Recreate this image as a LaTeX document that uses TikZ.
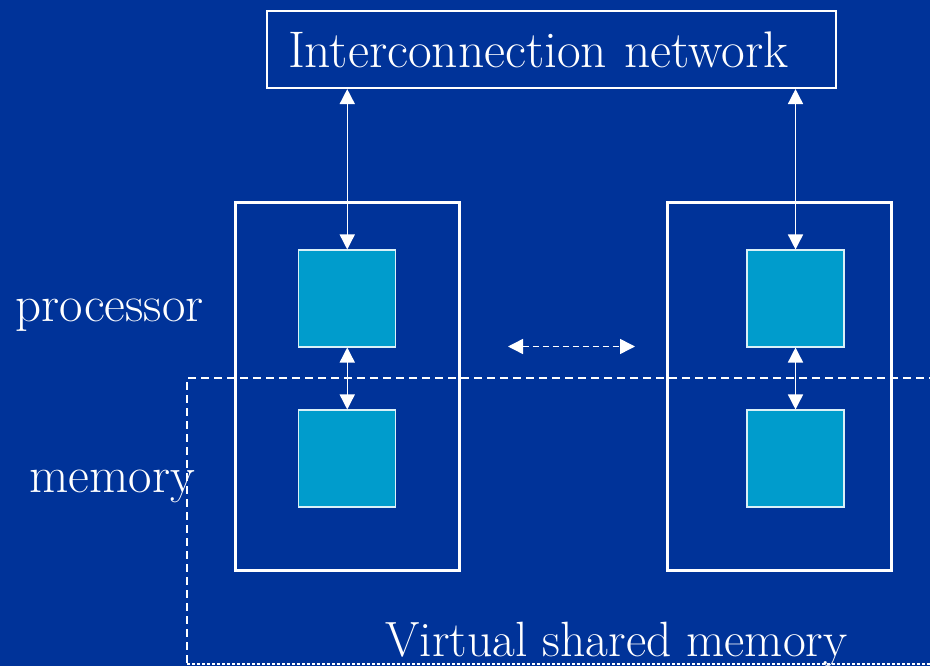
\documentclass[tikz,border=0pt]{standalone}
\usetikzlibrary{calc,arrows.meta}
\definecolor{slideblue}{RGB}{0,51,153}
\definecolor{cellblue}{RGB}{0,156,204}

\begin{document}
\begin{tikzpicture}[>={Triangle[length=0.3cm,width=0.3cm]}]
	\tikzstyle{unit}=[draw=white,line width=1.7pt,minimum width=4.47cm,minimum height=7.36cm,inner sep=0pt]
	\tikzstyle{cell}=[draw=white!85!cellblue,fill=cellblue,line width=0.6pt,minimum size=1.94cm,inner sep=0pt]
	\tikzstyle{caption}=[text=white,font=\fontsize{29}{34}\selectfont,inner sep=0pt,anchor=base west]
	\tikzstyle{link}=[white,line width=0.85pt,<->]
	\tikzstyle{vdash}=[white,line width=0.8pt,dash pattern=on 0.16cm off 0.1cm]

	\fill[slideblue] (0,0) rectangle (18.6,-13.32);
	\useasboundingbox (0,0) rectangle (18.6,-13.32);

	\node[draw=white,line width=1.2pt,text=white,font=\fontsize{29.3}{34}\selectfont,
	      minimum width=11.38cm,minimum height=1.54cm,inner xsep=0.42cm,
	      text width=10.54cm,align=left] (net) at (11.03,-0.99) {Interconnection network};

	\foreach \name/\x/\cx in {l/6.945/6.945, r/15.59/15.91}
	{
	\node[unit] (U-\name) at (\x,-7.73) {};
	\node[cell] (P-\name) at (\cx,-5.97) {};
	\node[cell] (M-\name) at (\cx,-9.17) {};
	}

	\foreach \name in {l,r}
	{
	\draw[link] (P-\name.north) -- (P-\name.north |- net.south);
	\draw[link] (P-\name.south) -- (M-\name.north);
	}

	% message passing between the nodes
	\coordinate (mp-a) at (10.16,-6.93);
	\coordinate (mp-b) at (12.7,-6.93);
	\draw[link,dash pattern=on 0.12cm off 0.08cm] (mp-a) -- (mp-b);

	% virtual shared memory region
	\coordinate (vs-ne) at (19,-7.56);
	\coordinate (vs-sw) at (3.74,-13.28);
	\coordinate (vs-se) at (19,-13.28);
	\draw[vdash] (vs-ne) -| (vs-sw);
	\draw[white,line width=0.7pt,dash pattern=on 0.06cm off 0.04cm] (vs-sw) -- (vs-se);

	\node[caption] (proc) at (0.3,-6.44) {processor};
	\node[caption] (mem) at (0.58,-9.84) {memory};
	\node[caption,font=\fontsize{28.2}{33}\selectfont] (vsm) at (7.7,-13.12) {Virtual shared memory};
\end{tikzpicture}
\end{document}
